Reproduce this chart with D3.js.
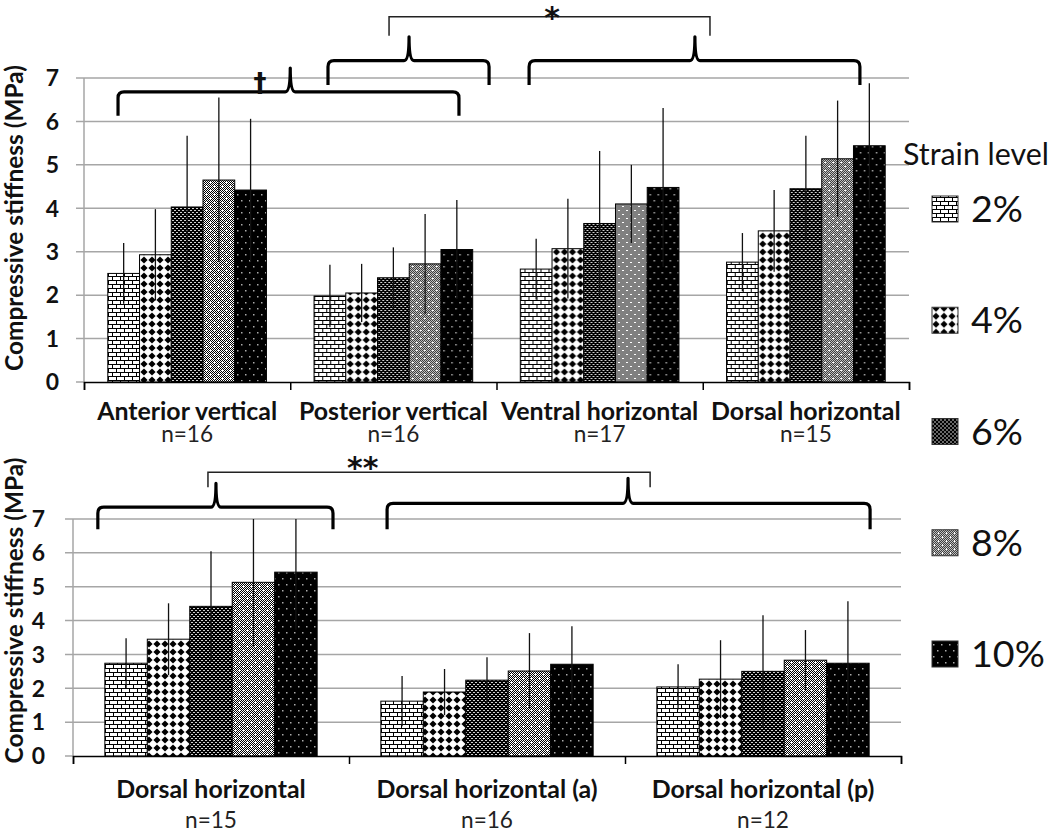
<!DOCTYPE html>
<html><head><meta charset="utf-8">
<script src="https://cdn.jsdelivr.net/npm/d3@7"></script>
<style>
html,body{margin:0;padding:0;background:#fff;}
svg{display:block;font-family:Lato,"Noto Sans",sans-serif;}
</style></head>
<body>
<svg id="chart" width="1050" height="832"></svg>
<script>
// ---------- DATA ----------
const strains = ["2%", "4%", "6%", "8%", "10%"];
const yTicks = [0, 1, 2, 3, 4, 5, 6, 7];

const topCategories = ["Anterior vertical", "Posterior vertical", "Ventral horizontal", "Dorsal horizontal"];
const topN = ["n=16", "n=16", "n=17", "n=15"];
const topMeans = [
  [2.50, 2.93, 4.03, 4.65, 4.42],
  [1.98, 2.05, 2.40, 2.72, 3.05],
  [2.60, 3.07, 3.65, 4.10, 4.48],
  [2.76, 3.48, 4.45, 5.14, 5.44]
];
const topErrors = [
  [0.70, 1.05, 1.64, 1.90, 1.64],
  [0.72, 0.67, 0.70, 1.15, 1.14],
  [0.70, 1.15, 1.67, 0.90, 1.83],
  [0.67, 0.94, 1.22, 1.34, 1.44]
];

const bottomCategories = ["Dorsal horizontal", "Dorsal horizontal (a)", "Dorsal horizontal (p)"];
const bottomN = ["n=15", "n=16", "n=12"];
const bottomMeans = [
  [2.74, 3.45, 4.42, 5.13, 5.43],
  [1.62, 1.89, 2.24, 2.51, 2.71],
  [2.04, 2.27, 2.50, 2.83, 2.74]
];
const bottomErrors = [
  [0.74, 1.06, 1.63, 1.91, 1.70],
  [0.74, 0.68, 0.68, 1.12, 1.12],
  [0.67, 1.15, 1.66, 0.89, 1.83]
];

// significance annotations: positions in category units (x) and data units (y)
const topBraces = [
  {x1: 0.165, x2: 1.818, xc: 1.0,   y: 6.68, yEnd: 6.13, yTip: 7.23},
  {x1: 1.183, x2: 1.964, xc: 1.576, y: 7.40, yEnd: 6.84, yTip: 7.95},
  {x1: 2.158, x2: 3.762, xc: 2.962, y: 7.40, yEnd: 6.84, yTip: 7.95}
];
const topLinks = [{x1: 1.479, x2: 3.035, y: 8.41, yEnd: 7.97}];
const topMarks = [{text: "*", x: 2.27, y: 8.50, size: 30}, {text: "†", x: 0.853, y: 6.98, size: 26}];

const bottomBraces = [
  {x1: 0.09,  x2: 0.942, xc: 0.518, y: 7.35, yEnd: 6.70, yTip: 8.05},
  {x1: 1.138, x2: 2.888, xc: 2.011, y: 7.46, yEnd: 6.70, yTip: 8.20}
];
const bottomLinks = [{x1: 0.489, x2: 2.091, y: 8.38, yEnd: 7.94}];
const bottomMarks = [{text: "**", x: 1.05, y: 8.66, size: 30}];

// ---------- SETUP ----------
const svg = d3.select("#chart");
const defs = svg.append("defs");

// size a font so that a sample text reaches the width measured on the reference
function fitSize(sample, weight, targetWidth) {
  const t = svg.append("text").attr("font-size", 20).attr("font-weight", weight).text(sample);
  const w = t.node().getComputedTextLength();
  t.remove();
  return 20 * targetWidth / w;
}
const catSize = fitSize("Anterior vertical", "bold", 180);
const nSize = fitSize("n=16", "normal", 52);
const titleSize = fitSize("Compressive stiffness (MPa)", "bold", 306);
const tickSize = catSize * 0.92;
const legendTitleSize = fitSize("Strain level", "normal", 146);
const legendSize = fitSize("2%", "normal", 52);

function pattern(id, w, h, draw) {
  const p = defs.append("pattern").attr("id", id).attr("patternUnits", "userSpaceOnUse")
    .attr("width", w).attr("height", h);
  draw(p);
}
// 2% brick
pattern("p2", 8, 8, p => {
  p.append("rect").attr("width", 8).attr("height", 8).attr("fill", "#fff");
  p.append("path").attr("d", "M0,0.5H8M0,4.5H8M0.5,0V4.5M4.5,4.5V8").attr("stroke", "#000").attr("stroke-width", 1).attr("fill", "none");
});
// 4% diamonds
pattern("p4", 8, 8, p => {
  p.append("rect").attr("width", 8).attr("height", 8).attr("fill", "#fff");
  p.append("path").attr("d", "M4,0.4L7.6,4L4,7.6L0.4,4Z").attr("fill", "#000");
});
// 6% dark fine grid
pattern("p6", 4, 4, p => {
  p.append("rect").attr("width", 4).attr("height", 4).attr("fill", "#000");
  p.append("rect").attr("x", 0).attr("y", 0).attr("width", 2).attr("height", 1).attr("fill", "#d0d0d0");
  p.append("rect").attr("x", 2).attr("y", 2).attr("width", 2).attr("height", 1).attr("fill", "#d0d0d0");
});
// 8% gray checker with white crosses
pattern("p8", 8, 8, p => {
  p.append("rect").attr("width", 8).attr("height", 8).attr("fill", "#fff");
  for (let i = 0; i < 8; i++) for (let j = 0; j < 8; j++) if ((i + j) % 2 === 0)
    p.append("rect").attr("x", i).attr("y", j).attr("width", 1).attr("height", 1).attr("fill", "#000");
  p.append("path").attr("d", "M1,2.5H4M2.5,1V4M5,6.5H8M6.5,5V8").attr("stroke", "#fff").attr("stroke-width", 1);
});
// 10% black with dots
pattern("p10", 8, 12, p => {
  p.append("rect").attr("width", 8).attr("height", 12).attr("fill", "#000");
  p.append("rect").attr("x", 1).attr("y", 2).attr("width", 1.5).attr("height", 1.5).attr("fill", "#aaa");
  p.append("rect").attr("x", 5).attr("y", 8).attr("width", 1.5).attr("height", 1.5).attr("fill", "#aaa");
});
const fills = ["url(#p2)", "url(#p4)", "url(#p6)", "url(#p8)", "url(#p10)"];

function panel(cfg) {
  const g = svg.append("g");
  const x0 = d3.scaleBand().domain(cfg.categories).range([cfg.left, cfg.right]).paddingInner(0).paddingOuter(0);
  const x1 = d3.scaleBand().domain(strains).range([0, x0.bandwidth()]).paddingInner(0).paddingOuter(0.75);
  const u = d3.scaleLinear().domain([0, cfg.categories.length]).range([cfg.left, cfg.right]);
  const y = d3.scaleLinear().domain([0, 7]).range([cfg.bottom, cfg.top]);

  // gridlines
  g.selectAll("line.grid").data(yTicks.slice(1)).join("line")
    .attr("x1", cfg.left - 8).attr("x2", cfg.right)
    .attr("y1", d => y(d)).attr("y2", d => y(d))
    .attr("stroke", "#a6a6a6").attr("stroke-width", 1.5);
  g.append("line").attr("x1", cfg.left - 8).attr("x2", cfg.left)
    .attr("y1", y(0)).attr("y2", y(0)).attr("stroke", "#a6a6a6").attr("stroke-width", 1.5);
  // y axis line
  g.append("line").attr("x1", cfg.left).attr("x2", cfg.left).attr("y1", y(0)).attr("y2", y(7))
    .attr("stroke", "#a6a6a6").attr("stroke-width", 1.5);
  // y labels
  g.selectAll("text.yt").data(yTicks).join("text")
    .attr("x", cfg.labelX).attr("y", d => y(d)).attr("dy", "0.36em")
    .attr("text-anchor", "end").attr("font-weight", "bold").attr("font-size", tickSize).attr("fill", "#111")
    .text(d => d);
  // y title
  g.append("text").attr("transform", `translate(${cfg.titleX},${(y(0) + y(7)) / 2 + cfg.titleShift}) rotate(-90)`)
    .attr("text-anchor", "middle").attr("font-weight", "bold").attr("font-size", titleSize).attr("fill", "#111")
    .text("Compressive stiffness (MPa)");

  // bars
  const groups = g.selectAll("g.cat").data(cfg.categories).join("g")
    .attr("transform", d => `translate(${x0(d)},0)`);
  groups.each(function(cat, ci) {
    const gg = d3.select(this);
    const rows = strains.map((s, si) => ({s, si, v: cfg.means[ci][si], e: cfg.errors[ci][si]}));
    gg.selectAll("rect").data(rows).join("rect")
      .attr("x", d => x1(d.s)).attr("width", x1.bandwidth())
      .attr("y", d => y(d.v)).attr("height", d => y(0) - y(d.v))
      .attr("fill", d => fills[d.si]).attr("stroke", "#000").attr("stroke-width", 1);
    gg.selectAll("line.err").data(rows).join("line")
      .attr("x1", d => x1(d.s) + x1.bandwidth() / 2).attr("x2", d => x1(d.s) + x1.bandwidth() / 2)
      .attr("y1", d => y(Math.max(0, d.v - d.e))).attr("y2", d => y(Math.min(7, d.v + d.e)))
      .attr("stroke", "#111").attr("stroke-width", 1.3);
  });

  // x axis
  const xa = g.append("g").attr("transform", `translate(0,${y(0)})`)
    .call(d3.axisBottom(u).tickValues(d3.range(cfg.categories.length + 1)).tickSize(8).tickFormat(""));
  xa.select(".domain").attr("stroke", "#000").attr("stroke-width", 1.5);
  xa.selectAll(".tick line").attr("stroke", "#000").attr("stroke-width", 1.5);

  // category labels
  g.selectAll("text.cat").data(cfg.categories).join("text")
    .attr("x", d => x0(d) + x0.bandwidth() / 2).attr("y", cfg.catY)
    .attr("text-anchor", "middle").attr("font-weight", "bold").attr("font-size", catSize).attr("fill", "#111")
    .text(d => d);
  g.selectAll("text.n").data(cfg.ns).join("text")
    .attr("x", (d, i) => x0(cfg.categories[i]) + x0.bandwidth() / 2).attr("y", cfg.nY)
    .attr("text-anchor", "middle").attr("font-size", nSize).attr("fill", "#222")
    .text(d => d);

  // braces
  g.selectAll("path.brace").data(cfg.braces).join("path")
    .attr("d", b => {
      const X1 = u(b.x1), X2 = u(b.x2), XC = u(b.xc), Y = y(b.y), YE = y(b.yEnd), YT = y(b.yTip), r = 6;
      return `M${X1},${YE}L${X1},${Y + r}Q${X1},${Y} ${X1 + r},${Y}L${XC - 5},${Y}Q${XC},${Y} ${XC},${YT}` +
             `Q${XC},${Y} ${XC + 5},${Y}L${X2 - r},${Y}Q${X2},${Y} ${X2},${Y + r}L${X2},${YE}`;
    })
    .attr("fill", "none").attr("stroke", "#000").attr("stroke-width", 3.2).attr("stroke-linejoin", "round");
  g.selectAll("path.link").data(cfg.links).join("path")
    .attr("d", b => `M${u(b.x1)},${y(b.yEnd)}V${y(b.y)}H${u(b.x2)}V${y(b.yEnd)}`)
    .attr("fill", "none").attr("stroke", "#222").attr("stroke-width", 1.5);
  g.selectAll("text.mark").data(cfg.marks).join("text")
    .attr("x", m => u(m.x)).attr("y", m => y(m.y)).attr("dy", "0.5em")
    .attr("text-anchor", "middle").attr("font-family", "'DejaVu Sans'").attr("font-weight", "bold")
    .attr("font-size", m => m.size).attr("fill", "#111")
    .text(m => m.text);
}

panel({categories: topCategories, ns: topN, means: topMeans, errors: topErrors,
  left: 84, right: 909, top: 78, bottom: 382, labelX: 59, titleX: 23, titleShift: -12,
  catY: 420, nY: 442, braces: topBraces, links: topLinks, marks: topMarks});
panel({categories: bottomCategories, ns: bottomN, means: bottomMeans, errors: bottomErrors,
  left: 73, right: 901, top: 519, bottom: 756, labelX: 45, titleX: 23, titleShift: -27,
  catY: 798, nY: 828, braces: bottomBraces, links: bottomLinks, marks: bottomMarks});

// legend
const legend = svg.append("g");
legend.append("text").attr("x", 903).attr("y", 165).attr("font-size", legendTitleSize).attr("fill", "#111").text("Strain level");
const ly = d3.scaleLinear().domain([0, strains.length - 1]).range([209, 654]);
const items = legend.selectAll("g.item").data(strains).join("g")
  .attr("transform", (d, i) => `translate(932,${ly(i)})`);
items.append("rect").attr("x", 0).attr("y", -13).attr("width", 26).attr("height", 26)
  .attr("fill", (d, i) => fills[i]).attr("stroke", "#333").attr("stroke-width", 1);
items.append("text").attr("x", 39).attr("y", 13).attr("font-size", legendSize).attr("fill", "#111")
  .text(d => d);
</script>
</body></html>
